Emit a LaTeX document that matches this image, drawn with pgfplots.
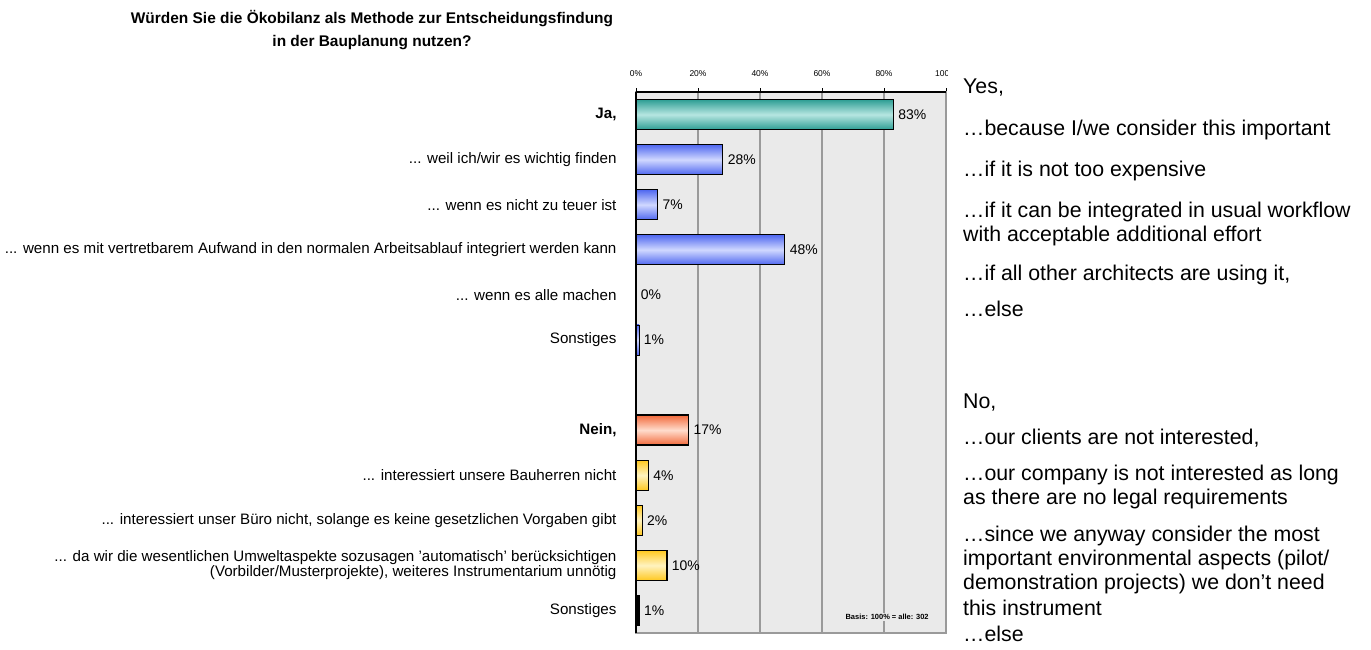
\documentclass[border=0pt]{standalone}
\usepackage{pgfplots}
\pgfplotsset{compat=1.18}
\usepackage{fontspec}
\setmainfont{Liberation Sans}
\newcommand{\ddd}{...}
\definecolor{gridgray}{HTML}{9A9A9A}
\definecolor{bggray}{HTML}{EAEAEA}
\definecolor{tealD}{HTML}{2E9E94}
\definecolor{tealL}{HTML}{B6E6E1}
\definecolor{blueD}{HTML}{5068F0}
\definecolor{blueL}{HTML}{D0D8FF}
\definecolor{orD}{HTML}{F26A3C}
\definecolor{orL}{HTML}{FFDCCC}
\definecolor{yeD}{HTML}{FFC820}
\definecolor{yeL}{HTML}{FFF3C0}
\pgfplotsset{
  mybar/.style 2 args={xbar, bar width=30bp, bar shift=0pt, draw=black, line width=1.3bp,
    top color=#1, bottom color=#1, middle color=#2},
}
\begin{document}
\begin{tikzpicture}
\useasboundingbox (0,0) rectangle (1371bp,650bp);
\begin{axis}[
  at={(636bp,17bp)}, anchor=south west,
  scale only axis, width=310bp, height=541bp,
  xmin=0, xmax=100, ymin=-0.5, ymax=11.5, y dir=reverse,
  axis background/.style={fill=bggray},
  axis line style={gridgray, line width=1.5bp},
  /pgf/number format/assume math mode=true,
  xtick={0,20,40,60,80,100},
  xticklabels={0\%,20\%,40\%,60\%,80\%,100\%},
  xticklabel pos=right, xtick pos=right,
  xticklabel style={font=\fontsize{8.5}{9}\selectfont, inner sep=3bp, yshift=8bp},
  tick align=outside, major tick length=4bp,
  xtick style={black, line width=1bp},
  xmajorgrids, grid style={gridgray, line width=1.8bp},
  ytick={0,1,2,3,4,5,7,8,9,10,11},
  yticklabels={\textbf{Ja,},
    \ddd{} weil ich/wir es wichtig finden,
    \ddd{} wenn es nicht zu teuer ist,
    \ddd{} wenn es mit vertretbarem Aufwand in den normalen Arbeitsablauf integriert werden kann,
    \ddd{} wenn es alle machen,
    Sonstiges,
    \textbf{Nein,},
    \ddd{} interessiert unsere Bauherren nicht,
    {\ddd{} interessiert unser Büro nicht, solange es keine gesetzlichen Vorgaben gibt},
    {\ddd{} da wir die wesentlichen Umweltaspekte sozusagen 'automatisch' berücksichtigen\\(Vorbilder/Musterprojekte), weiteres Instrumentarium unnötig},
    Sonstiges},
  yticklabel style={font=\fontsize{15.2}{15}\selectfont, align=right, xshift=-12bp},
  ytick style={draw=none},
  point meta=x,
  nodes near coords={\pgfmathprintnumber{\pgfplotspointmeta}\%},
  every node near coord/.append style={anchor=west, font=\fontsize{14}{14}\selectfont, xshift=1bp, black},
  clip=false,
]
\addplot[mybar={tealD}{tealL}] coordinates {(83,0)};
\addplot[mybar={blueD}{blueL}] coordinates {(28,1)};
\addplot[mybar={blueD}{blueL}] coordinates {(7,2)};
\addplot[mybar={blueD}{blueL}] coordinates {(48,3)};
\addplot[mybar={blueD}{blueL}] coordinates {(0,4)};
\addplot[mybar={blueD}{blueL}, line width=0.8bp] coordinates {(1,5)};
\addplot[mybar={orD}{orL}] coordinates {(17,7)};
\addplot[mybar={yeD}{yeL}] coordinates {(4,8)};
\addplot[mybar={yeD}{yeL}] coordinates {(2,9)};
\addplot[mybar={yeD}{yeL}] coordinates {(10,10)};
\addplot[xbar, bar width=30bp, bar shift=0pt, draw=black, fill=black, line width=1.3bp] coordinates {(1,11)};
\draw[black, line width=1.5bp] (axis cs:0,-0.5) -- (axis cs:0,11.5);
\draw[black, line width=1.5bp] (axis cs:0,-0.5) -- (axis cs:100,-0.5);
\node[fill=bggray, font=\bfseries\fontsize{7.5}{8}\selectfont, inner sep=1.5bp] at (axis cs:81,11.15) {Basis: 100\% = alle: 302};
\end{axis}
\fill[white] (947.5bp,560bp) rectangle (960bp,600bp);
\node[font=\bfseries\fontsize{15.5}{23}\selectfont, align=center] at (372bp,{(650-30)*1bp}) {Würden Sie die Ökobilanz als Methode zur Entscheidungsfindung\\in der Bauplanung nutzen?};
\begin{scope}[every node/.style={anchor=west, font=\fontsize{21.4}{24}\selectfont, inner sep=0pt}]
\node at (963bp,{(650-88)*1bp}) {Yes,};
\node at (963bp,{(650-130)*1bp}) {…because I/we consider this important};
\node at (963bp,{(650-171)*1bp}) {…if it is not too expensive};
\node at (963bp,{(650-212)*1bp}) {…if it can be integrated in usual workflow};
\node at (963bp,{(650-236)*1bp}) {with acceptable additional effort};
\node at (963bp,{(650-275)*1bp}) {…if all other architects are using it,};
\node at (963bp,{(650-309)*1bp}) {…else};
\node at (963bp,{(650-403)*1bp}) {No,};
\node at (963bp,{(650-438)*1bp}) {…our clients are not interested,};
\node at (963bp,{(650-475)*1bp}) {…our company is not interested as long};
\node at (963bp,{(650-499)*1bp}) {as there are no legal requirements};
\node at (963bp,{(650-536)*1bp}) {…since we anyway consider the most};
\node at (963bp,{(650-560)*1bp}) {important environmental aspects (pilot/};
\node at (963bp,{(650-584)*1bp}) {demonstration projects) we don’t need};
\node at (963bp,{(650-608)*1bp}) {this instrument};
\node at (963bp,{(650-634)*1bp}) {…else};
\end{scope}
\end{tikzpicture}
\end{document}
